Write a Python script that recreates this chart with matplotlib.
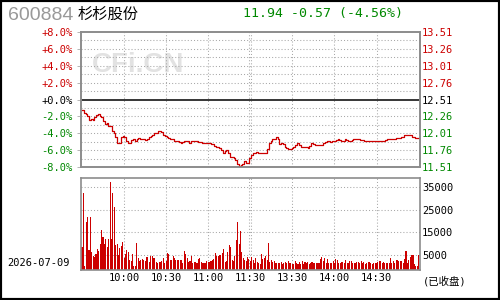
import numpy as np
import matplotlib.pyplot as plt
from matplotlib.patches import Rectangle

# quote header
stock_code = "600884"
stock_name = "杉杉股份"
trade_date = "2026-07-09"
prev_close = 12.51
last_price = 11.94

# minute prices (09:30 -> 15:00)
price_am1 = [12.35, 12.31, 12.29, 12.27, 12.20, 12.22, 12.20, 12.25, 12.28, 12.29,
             12.27, 12.25, 12.19, 12.15, 12.16, 12.11, 12.11, 12.05, 12.01, 11.96,
             11.87, 11.87, 11.95, 11.97, 11.95, 11.89, 11.87, 11.86, 11.91, 11.92,
             11.89, 11.92, 11.94, 11.93, 11.93, 11.92, 11.91, 11.93, 11.96, 11.97,
             11.98, 12.01, 12.02, 12.04, 12.04, 12.03, 11.99, 11.97, 11.96, 11.94,
             11.92, 11.92, 11.90, 11.89, 11.89, 11.88, 11.86, 11.88, 11.89, 11.90,
             11.89, 11.87, 11.89, 11.89, 11.90, 11.89, 11.88, 11.88]
price_am2 = [11.86, 11.86, 11.87, 11.86, 11.86, 11.85, 11.85, 11.82, 11.80, 11.81,
             11.79, 11.76, 11.72, 11.75, 11.76, 11.72, 11.66, 11.66, 11.65, 11.61,
             11.56, 11.53, 11.54, 11.55, 11.60, 11.57, 11.57, 11.65, 11.69, 11.71,
             11.72, 11.73, 11.71, 11.72, 11.72, 11.72, 11.72, 11.78, 11.86, 11.90,
             11.93, 11.93, 11.96, 11.93, 11.85, 11.86, 11.85, 11.81, 11.79, 11.77,
             11.77, 11.79, 11.80, 11.84, 11.86, 11.84, 11.80, 11.80, 11.80, 11.81,
             11.79, 11.82, 11.86, 11.85]
price_pm = [11.84, 11.83, 11.83, 11.84, 11.84, 11.86, 11.88, 11.89, 11.89, 11.88,
            11.89, 11.89, 11.91, 11.93, 11.91, 11.89, 11.90, 11.92, 11.91, 11.89,
            11.90, 11.91, 11.92, 11.93, 11.92, 11.93, 11.91, 11.91, 11.90, 11.89,
            11.89, 11.89, 11.90, 11.90, 11.89, 11.89, 11.89, 11.90, 11.90, 11.90,
            11.91, 11.92, 11.93, 11.92, 11.92, 11.93, 11.94, 11.94, 11.94, 11.95,
            11.95, 11.98, 11.99, 11.99, 11.98, 11.96, 11.95, 11.94, 11.94, 11.94]

# minute volumes
vol_am1 = [8400, 32470, 0, 19550, 21780, 7080, 21780, 6480, 4400, 4100,
           5300, 7500, 6600, 9750, 16000, 12870, 9750, 12000, 8400, 12000,
           37400, 12000, 32470, 26240, 9300, 9750, 4850, 7970, 8860, 10640,
           3500, 5300, 7080, 6200, 2630, 2180, 5300, 0, 0, 10200,
           3500, 2180, 2630, 3070, 2630, 2180, 3960, 3960, 1730, 4400,
           4400, 3500, 3500, 1730, 1290, 1730, 1730, 2180, 3500, 1290,
           2180, 5740, 5300, 2630, 2630, 4400, 3500, 2630, 2630, 2630,
           2630, 2630, 1290, 6600, 5300, 3500, 2000, 2180, 4700, 1290,
           1730, 1730]
vol_am2 = [1290, 3070, 3500, 1730, 1290, 1290, 1290, 2180, 1730, 1730,
           2180, 2630, 3070, 5740, 4400, 4400, 4850, 4850, 5740, 7500,
           1730, 2180, 6200, 9300, 8400, 2630, 2180, 4400, 11500, 19550,
           9750, 15540, 6200, 3500, 2630, 2180, 3960, 3070, 2180, 3960,
           2630, 1290, 3500, 1730, 1290, 840, 5300, 3070, 3500, 4400,
           2630, 10200, 1730, 2630, 1730, 2180, 1290, 1290, 1290, 1290,
           1730, 840, 1290, 1730, 1290, 2180, 1290, 1290, 840, 840,
           2180, 1290, 840, 1730, 840, 2180, 840, 1730, 1290, 1730,
           840, 1290]
vol_pm = [1730, 1290, 1290, 1290, 1290, 1290, 3070, 3960, 2180, 3500,
          1290, 3070, 1290, 1290, 1290, 2180, 1290, 3070, 2630, 1290,
          1290, 1730, 1730, 1290, 2630, 1290, 1290, 2180, 2180, 1290,
          1290, 1290, 1730, 1730, 1290, 2180, 1290, 1730, 840, 1290,
          1730, 1730, 1290, 840, 1290, 1290, 1290, 1730, 2180, 2180,
          1290, 1730, 1290, 1290, 1290, 1290, 3500, 1290, 2180, 1290,
          2630, 2630, 2180, 2180, 2180, 1290, 3070, 6600, 1290, 2630,
          3960, 4850, 4850, 840, 0, 0, 4850]

pct_ticks = [8, 6, 4, 2, 0, -2, -4, -6, -8]
time_ticks = [30, 60, 90, 120, 150, 180, 210]
time_labels = ["10:00", "10:30", "11:00", "11:30", "13:30", "14:00", "14:30"]
vol_ticks = [5000, 15000, 25000, 35000]
vol_floor, vol_top = -1700, 39000

RED = "#cc0000"
GREEN = "#008800"
GRID = "#a8a8a8"
FRAME = "#8c8c8c"
MONO = "DejaVu Sans Mono"
DOT = (0, (1, 2))

price = np.array(price_am1 + price_am2 + price_pm)
volume = np.array(vol_am1 + vol_am2 + vol_pm)
pct = (price / prev_close - 1) * 100
t_price = np.linspace(0, 240, len(price))
t_vol = np.arange(len(volume))

W, H = 500, 300
fig = plt.figure(figsize=(W / 100, H / 100), dpi=100)


def box(l, t, r, b):
    return [l / W, 1 - b / H, (r - l) / W, (b - t) / H]


ax = fig.add_axes(box(81, 32, 420, 167))
axv = fig.add_axes(box(81, 178, 420, 270))


def vgrid(a):
    for t in time_ticks:
        # lunch break shows as a double line
        for x in ([t - 0.6, t + 0.6] if t == 120 else [t]):
            a.axvline(x, color=GRID, lw=0.75, ls=DOT, zorder=1)


# price panel
for p in range(-7, 8):
    if p != 0:
        ax.axhline(p, color=GRID, lw=0.75, ls=DOT, zorder=1)
ax.axhline(0, color="black", lw=1.1, zorder=2)
vgrid(ax)
ax.plot(t_price, pct, color=RED, lw=0.9, drawstyle="steps-post", zorder=3)
ax.set_xlim(-0.7, 241)
ax.set_ylim(-8, 8)
ax.set_xticks([])
ax.set_yticks(pct_ticks)
ax.set_yticklabels([f"{p:+.1f}%" for p in pct_ticks], fontsize=7.5, family=MONO)
for lab, p in zip(ax.get_yticklabels(), pct_ticks):
    lab.set_color(RED if p > 0 else (GREEN if p < 0 else "black"))
ax.tick_params(axis="y", length=3, width=0.6, color=GRID, pad=3)

axr = ax.twinx()
axr.set_ylim(prev_close * 0.92, prev_close * 1.08)
price_ticks = [prev_close * (1 + p / 100) for p in pct_ticks]
axr.set_yticks(price_ticks)
axr.set_yticklabels([f"{v:.2f}" for v in price_ticks], fontsize=7.5, family=MONO)
for lab, p in zip(axr.get_yticklabels(), pct_ticks):
    lab.set_color(RED if p > 0 else (GREEN if p < 0 else "black"))
axr.tick_params(axis="y", length=0, pad=1.5)

ax.text(92 / W, 1 - 65 / H, "CFi.CN", transform=fig.transFigure, fontsize=20,
        weight="bold", color="#e2e2e2", family="Liberation Sans", va="center",
        zorder=0)

# volume panel
for v in vol_ticks:
    axv.axhline(v, color=GRID, lw=0.75, ls=DOT, zorder=1)
vgrid(axv)
axv.bar(t_vol, volume - vol_floor, bottom=vol_floor, width=0.75, color=RED,
        lw=0, zorder=2)
axv.set_xlim(-0.7, 241)
axv.set_ylim(vol_floor, vol_top)
axv.yaxis.tick_right()
axv.set_yticks(vol_ticks)
axv.set_yticklabels([str(v) for v in vol_ticks], fontsize=7.5, family=MONO)
axv.tick_params(axis="y", length=0, pad=1.5)
axv.set_xticks(time_ticks)
axv.set_xticklabels(time_labels, fontsize=7.5, family=MONO)
axv.tick_params(axis="x", length=0, pad=2)

for a in (ax, axr, axv):
    for s in a.spines.values():
        s.set_color(FRAME)
        s.set_linewidth(1.2)

# header and footer text
fig.text(8 / W, 1 - 15 / H, stock_code, fontsize=14, color="#999999",
         family="Liberation Sans", va="center")
fig.text(78 / W, 1 - 14 / H, stock_name, fontsize=11, family="Noto Sans CJK SC",
         va="center")
change = last_price - prev_close
fig.text(243 / W, 1 - 14 / H,
         f"{last_price:.2f} {change:+.2f} ({change / prev_close * 100:+.2f}%)",
         fontsize=9.5, color=GREEN, family=MONO, va="center")
fig.text(7 / W, 1 - 263 / H, trade_date, fontsize=7.5, family=MONO, va="center")
fig.text(423 / W, 1 - 281 / H, "(已收盘)", fontsize=7.5,
         family=[MONO, "Noto Sans CJK SC"], va="center")

fig.add_artist(Rectangle((0, 0), 1, 1, transform=fig.transFigure, fill=False,
                         ec="black", lw=3))

fig.savefig("out.png", dpi=100)
